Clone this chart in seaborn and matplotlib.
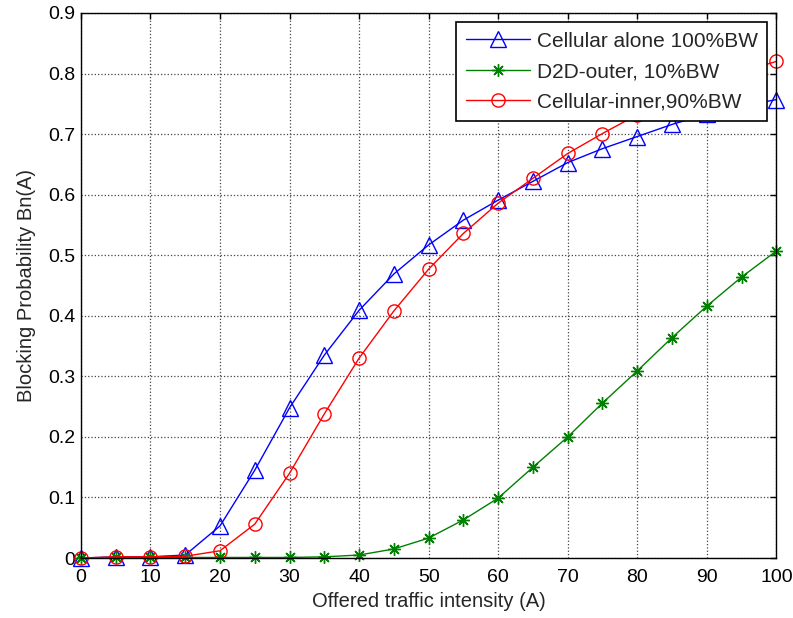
import numpy as np
import pandas as pd
import matplotlib
matplotlib.use("Agg")
import matplotlib.pyplot as plt
import seaborn as sns

# Offered traffic intensity (Erlang) and blocking probabilities
traffic = [0, 5, 10, 15, 20, 25, 30, 35, 40, 45, 50, 55, 60, 65, 70, 75, 80, 85, 90, 95, 100]
cellular_alone = [0.0, 0.002, 0.002, 0.005, 0.053, 0.145, 0.248, 0.335, 0.409, 0.469, 0.517,
                  0.558, 0.591, 0.622, 0.653, 0.676, 0.696, 0.716, 0.733, 0.746, 0.757]
d2d_outer = [0.0, 0.001, 0.001, 0.001, 0.001, 0.001, 0.001, 0.002, 0.005, 0.015, 0.033,
             0.063, 0.099, 0.150, 0.200, 0.256, 0.309, 0.364, 0.416, 0.464, 0.507]
cellular_inner = [0.0, 0.002, 0.002, 0.003, 0.012, 0.056, 0.140, 0.238, 0.330, 0.408, 0.477,
                  0.536, 0.586, 0.627, 0.668, 0.701, 0.732, 0.758, 0.783, 0.803, 0.820]

series_names = ["Cellular alone 100%BW", "D2D-outer, 10%BW", "Cellular-inner,90%BW"]
series_colors = ["#0000ff", "#008000", "#ff0000"]
series_markers = ["^", (8, 2, 0), "o"]
series_msizes = [11.5, 9, 9.5]
x_ticks = list(range(0, 101, 10))
y_ticks = [round(0.1 * i, 1) for i in range(10)]

df = pd.DataFrame({
    "A": traffic * 3,
    "Bn": cellular_alone + d2d_outer + cellular_inner,
    "series": sum([[n] * len(traffic) for n in series_names], []),
})

sns.set_style("white")
plt.rcParams["font.family"] = ["Liberation Sans", "DejaVu Sans"]

fig = plt.figure(figsize=(7.93, 6.18), dpi=100)
ax = fig.add_axes([0.102, 0.097, 0.877, 0.882])

for name, color, marker, ms in zip(series_names, series_colors, series_markers, series_msizes):
    sub = df[df["series"] == name]
    sns.lineplot(data=sub, x="A", y="Bn", ax=ax, color=color, linewidth=1.0,
                 marker=marker, markersize=ms,
                 markerfacecolor="none", markeredgecolor=color, markeredgewidth=1.0,
                 label=name, clip_on=False)

ax.set_xlim(0, 100)
ax.set_ylim(0, 0.9)
ax.set_xticks(x_ticks)
ax.set_yticks(y_ticks)
ax.set_xticklabels([str(t) for t in x_ticks])
ax.set_yticklabels(["0"] + [f"{t:.1f}" for t in y_ticks[1:]])
ax.tick_params(direction="in", length=4, width=1.0, labelsize=14, colors="black",
               top=True, right=True)
ax.tick_params(axis="x", pad=8)
ax.tick_params(axis="y", pad=4)
ax.grid(True, linestyle=":", color="#444444", linewidth=0.9)
for s in ax.spines.values():
    s.set_color("black")
    s.set_linewidth(1.0)
    s.set_visible(True)

ax.set_xlabel("Offered traffic intensity (A)", fontsize=14.5, labelpad=4)
ax.set_ylabel("Blocking Probability Bn(A)", fontsize=14.5, labelpad=9)

leg = ax.legend(loc="upper right", fontsize=15, frameon=True, fancybox=False,
                edgecolor="black", framealpha=1, borderpad=0.45, handlelength=3.1,
                handletextpad=0.3, labelspacing=0.55, borderaxespad=0.45)
leg.get_frame().set_linewidth(1.2)

fig.savefig("out.png", dpi=100)
